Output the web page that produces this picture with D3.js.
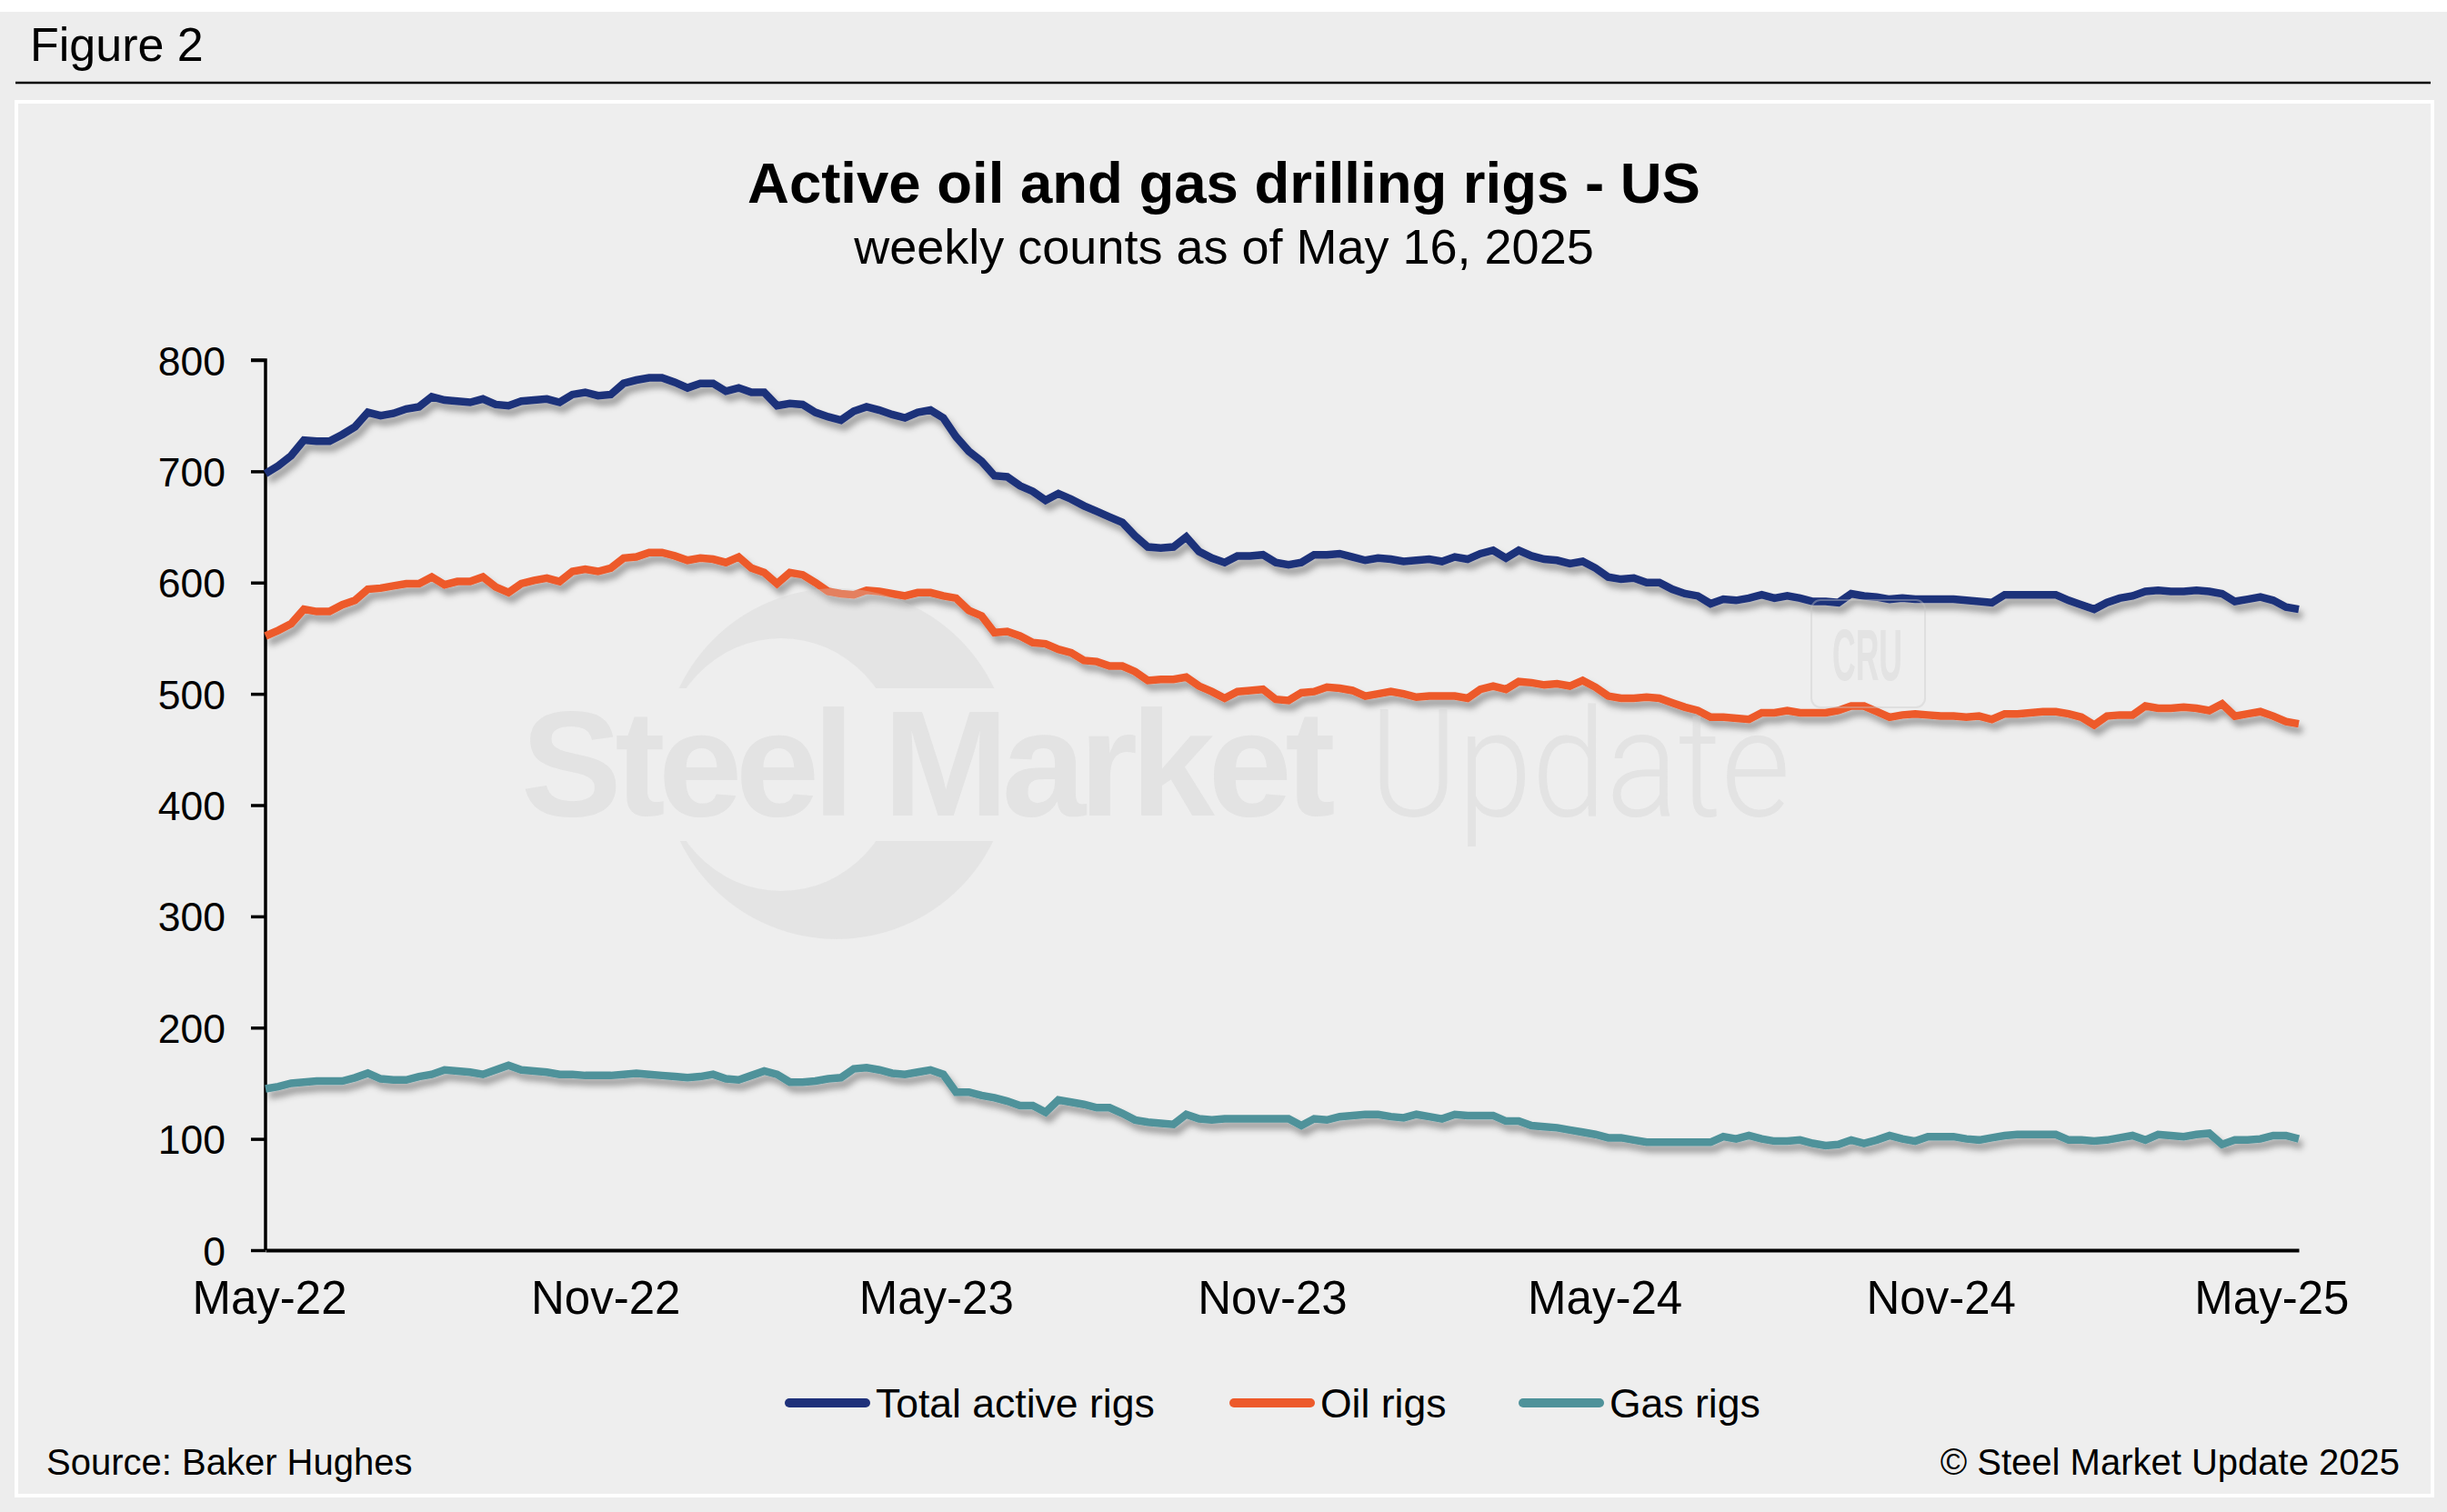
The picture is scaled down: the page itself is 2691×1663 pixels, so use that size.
<!DOCTYPE html>
<html>
<head>
<meta charset="utf-8">
<script src="https://cdn.jsdelivr.net/npm/d3@7"></script>
<style>
  body { margin: 0; background: #fff; }
  svg { display: block; font-family: "Liberation Sans", Arial, sans-serif; }
</style>
</head>
<body>
<svg id="chart" width="2691" height="1663"></svg>
<script>
// weekly counts, Apr 29 2022 .. May 16 2025
const firstWeek = new Date(2022, 3, 29);

const totalRigs = [698,705,714,728,727,727,733,740,753,750,
  752,756,758,767,764,763,762,765,760,759,
  763,764,765,762,769,771,768,769,779,782,
  784,784,780,775,779,779,772,775,771,771,
  759,761,760,753,749,746,754,758,755,751,
  748,753,755,748,731,718,709,696,695,687,
  682,674,680,675,669,664,659,654,642,632,
  631,632,641,628,622,618,624,624,625,618,
  616,618,625,625,626,623,620,622,621,619,
  620,621,619,623,621,626,629,622,629,624,
  621,620,617,619,613,605,603,604,600,600,
  594,590,588,581,585,584,586,589,586,588,
  586,583,583,582,590,588,587,585,586,585,
  585,585,585,584,583,582,589,589,589,589,
  589,584,580,576,582,586,588,592,593,592,
  592,593,592,590,583,585,587,584,578,576];

const oilRigs = [552,557,563,576,574,574,580,584,594,595,
  597,599,599,605,598,601,601,605,596,591,
  599,602,604,601,610,612,610,613,622,623,
  627,627,624,620,622,621,618,623,613,609,
  599,609,607,600,592,590,589,593,592,590,
  588,591,591,588,586,575,570,555,556,552,
  546,545,540,537,530,529,525,525,520,512,
  513,513,515,507,502,496,502,503,504,495,
  494,501,502,506,505,503,498,500,502,500,
  497,498,498,498,496,504,507,504,511,510,
  508,509,507,512,506,498,496,496,497,496,
  492,488,485,479,479,478,477,483,483,485,
  483,483,483,485,489,489,484,479,481,482,
  481,480,480,479,480,477,482,482,483,484,
  484,482,479,472,480,481,481,489,487,487,
  488,487,485,491,480,482,484,480,475,473];

const gasRigs = [145,147,150,151,152,152,152,155,159,154,
  153,153,156,158,162,161,160,158,162,166,
  162,161,160,158,158,157,157,157,158,159,
  158,157,156,155,156,158,154,153,157,161,
  158,151,151,152,154,155,163,164,162,159,
  158,160,162,158,142,142,139,137,134,130,
  130,124,135,133,131,128,128,123,117,115,
  114,113,122,118,117,118,118,118,118,118,
  118,112,118,117,120,121,122,122,120,119,
  122,120,118,122,121,121,121,116,116,112,
  111,110,108,106,104,101,101,99,97,97,
  97,97,97,97,102,100,103,100,98,98,
  99,96,94,95,99,96,99,103,100,98,
  102,102,102,100,99,101,103,104,104,104,
  104,99,99,98,99,101,103,99,104,103,
  102,104,105,95,99,99,100,103,103,100];

const seriesNames = ["Total active rigs", "Oil rigs", "Gas rigs"];
const seriesColors = ["#1f317a", "#ed5a2b", "#4f929a"];
const xTickDates = ["2022-05-01","2022-11-01","2023-05-01","2023-11-01","2024-05-01","2024-11-01","2025-05-01"];
const yTicks = [0,100,200,300,400,500,600,700,800];

const weeks = totalRigs.map((d, i) => d3.timeWeek.offset(firstWeek, i));
const series = [totalRigs, oilRigs, gasRigs];

const svg = d3.select("#chart");
const W = 2691, H = 1663;
const plotLeft = 292, plotRight = 2528, plotTop = 396, plotBottom = 1375;

// page + panel
svg.append("rect").attr("x", 0).attr("y", 13).attr("width", W).attr("height", H - 13).attr("fill", "#ededed");
svg.append("text").attr("x", 33).attr("y", 67).attr("font-size", 52).attr("fill", "#000").text("Figure 2");
svg.append("line").attr("x1", 17).attr("x2", 2673).attr("y1", 91).attr("y2", 91)
  .attr("stroke", "#000").attr("stroke-width", 2.5);
svg.append("rect").attr("x", 18).attr("y", 112).attr("width", 2657).attr("height", 1533)
  .attr("fill", "#eeeeee").attr("stroke", "#fff").attr("stroke-width", 4);

svg.append("text").attr("x", 1346).attr("y", 223).attr("text-anchor", "middle")
  .attr("font-size", 63.5).attr("font-weight", "bold").text("Active oil and gas drilling rigs - US");
svg.append("text").attr("x", 1346).attr("y", 290).attr("text-anchor", "middle")
  .attr("font-size", 54).text("weekly counts as of May 16, 2025");

const defs = svg.append("defs");
const shadow = defs.append("filter").attr("id", "shadow")
  .attr("x", "-5%").attr("y", "-20%").attr("width", "110%").attr("height", "140%");
shadow.append("feDropShadow").attr("dx", 4).attr("dy", 7).attr("stdDeviation", 3.5)
  .attr("flood-color", "#000").attr("flood-opacity", 0.35);

const x = d3.scaleTime()
  .domain([weeks[0], weeks[weeks.length - 1]])
  .range([plotLeft, plotRight]);

const y = d3.scaleLinear()
  .domain([0, 800])
  .range([plotBottom, plotTop]);

// y axis
svg.append("g")
  .attr("transform", `translate(${plotLeft},0)`)
  .call(d3.axisLeft(y).tickValues(yTicks).tickSize(16).tickPadding(28))
  .call(g => g.select(".domain").attr("stroke-width", 3.5).attr("d", `M-16,${plotTop}H0V${plotBottom}`))
  .call(g => g.selectAll(".tick line").attr("stroke-width", 3.5))
  .call(g => g.selectAll(".tick text").attr("font-size", 44.5).attr("font-family", "Liberation Sans, Arial, sans-serif").attr("fill", "#000").attr("dy", "0.36em"));

// x axis
const parse = d3.timeParse("%Y-%m-%d");
svg.append("g")
  .attr("transform", `translate(0,${plotBottom})`)
  .call(d3.axisBottom(x).tickValues(xTickDates.map(parse)).tickFormat(d3.timeFormat("%b-%y")).tickSize(0).tickPadding(34))
  .call(g => g.select(".domain").attr("stroke-width", 4))
  .call(g => g.selectAll(".tick text").attr("font-size", 51).attr("font-family", "Liberation Sans, Arial, sans-serif").attr("fill", "#000"));

// lines
const line = d3.line()
  .x((d, i) => x(weeks[i]))
  .y(d => y(d));

const lines = svg.append("g").attr("class", "lines");
series.forEach((s, k) => {
  lines.append("path")
    .datum(s)
    .attr("fill", "none")
    .attr("stroke", seriesColors[k])
    .attr("stroke-width", 8.5)
    .attr("stroke-linejoin", "miter")
    .attr("filter", "url(#shadow)")
    .attr("d", line);
});

// watermark (sits over the lines, translucent)
const wm = svg.append("g").attr("opacity", 0.4).attr("fill", "#d2d2d2");
const band = defs.append("clipPath").attr("id", "band");
band.append("rect").attr("x", 600).attr("y", 600).attr("width", 600).attr("height", 157);
band.append("rect").attr("x", 600).attr("y", 925).attr("width", 600).attr("height", 160);
wm.append("path")
  .attr("clip-path", "url(#band)")
  .attr("fill-rule", "evenodd")
  .attr("opacity", 0.8)
  .attr("d", "M1112,840a192,193 0 1,0 -384,0a192,193 0 1,0 384,0Z M990,841a131,139 0 1,0 -262,0a131,139 0 1,0 262,0Z");
wm.append("text").attr("x", 573).attr("y", 897).attr("font-size", 166).attr("font-weight", "bold")
  .attr("letter-spacing", -7.5).text("Steel Market");
wm.append("text").attr("x", 1506).attr("y", 897).attr("font-size", 166).attr("font-weight", 300)
  .attr("font-family", "Roboto, Liberation Sans, sans-serif")
  .attr("textLength", 463).attr("lengthAdjust", "spacingAndGlyphs").text("Update");
wm.append("rect").attr("x", 1992).attr("y", 660).attr("width", 125).attr("height", 118).attr("rx", 10)
  .attr("fill", "none").attr("stroke", "#c8c8c8").attr("stroke-width", 2);
wm.append("text").attr("x", 2015).attr("y", 748).attr("font-size", 80).attr("font-weight", "bold")
  .attr("textLength", 77).attr("lengthAdjust", "spacingAndGlyphs").text("CRU");

// legend
const legendX = [868, 1357, 1675];
const legend = svg.append("g");
seriesNames.forEach((name, k) => {
  legend.append("line")
    .attr("x1", legendX[k]).attr("x2", legendX[k] + 84)
    .attr("y1", 1543).attr("y2", 1543)
    .attr("stroke", seriesColors[k]).attr("stroke-width", 10).attr("stroke-linecap", "round");
  legend.append("text")
    .attr("x", legendX[k] + 95).attr("y", 1559)
    .attr("font-size", 44.5).text(name);
});

svg.append("text").attr("x", 51).attr("y", 1622).attr("font-size", 40).text("Source: Baker Hughes");
svg.append("text").attr("x", 2639).attr("y", 1622).attr("font-size", 40).attr("text-anchor", "end")
  .text("\u00A9 Steel Market Update 2025");
</script>
</body>
</html>
